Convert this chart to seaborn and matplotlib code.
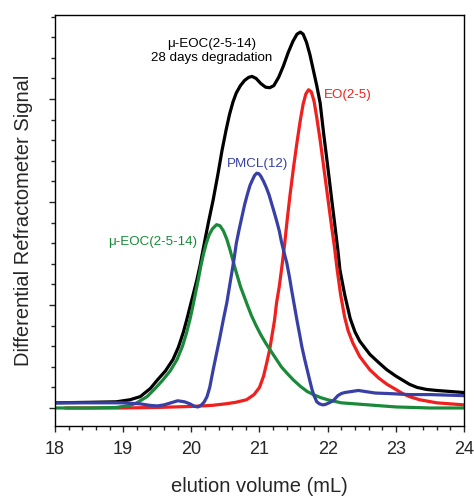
import numpy as np
import pandas as pd
import seaborn as sns
import matplotlib.pyplot as plt
from matplotlib.ticker import MultipleLocator, NullFormatter

# elution volume (mL) / signal values
black_x = [18.0, 18.5, 18.9, 19.1, 19.25, 19.4, 19.5, 19.62, 19.73, 19.81,
           19.88, 19.93, 19.98, 20.03, 20.08, 20.13, 20.17, 20.25, 20.32, 20.39,
           20.45, 20.51, 20.56, 20.61, 20.66, 20.72, 20.78, 20.84, 20.89, 20.95,
           21.02, 21.09, 21.15, 21.21, 21.28, 21.35, 21.42, 21.49, 21.55, 21.60,
           21.64, 21.69, 21.74, 21.79, 21.84, 21.89, 21.94, 22.0, 22.06, 22.11,
           22.15, 22.18, 22.25, 22.33, 22.40, 22.47, 22.55, 22.62, 22.75, 22.87,
           23.0, 23.1, 23.2, 23.31, 23.45, 23.6, 23.8, 24.0]
black_y = [0.05, 0.055, 0.06, 0.08, 0.11, 0.19, 0.27, 0.36, 0.47, 0.59,
           0.73, 0.85, 0.98, 1.11, 1.24, 1.39, 1.53, 1.80, 2.02, 2.27,
           2.50, 2.70, 2.85, 2.97, 3.06, 3.13, 3.18, 3.21, 3.22, 3.20,
           3.15, 3.115, 3.11, 3.13, 3.21, 3.32, 3.45, 3.56, 3.63, 3.65,
           3.63, 3.55, 3.43, 3.28, 3.13, 2.96, 2.67, 2.35, 2.02, 1.75,
           1.53, 1.34, 1.10, 0.87, 0.74, 0.65, 0.58, 0.52, 0.44, 0.37,
           0.31, 0.27, 0.23, 0.20, 0.18, 0.17, 0.16, 0.15]

red_x = [18.15, 19.0, 19.5, 20.0, 20.3, 20.5, 20.65, 20.81, 20.92, 21.0,
         21.06, 21.11, 21.15, 21.18, 21.22, 21.25, 21.29, 21.33, 21.37, 21.41,
         21.45, 21.5, 21.55, 21.6, 21.64, 21.68, 21.72, 21.76, 21.8, 21.84,
         21.89, 21.95, 22.0, 22.05, 22.1, 22.14, 22.19, 22.25, 22.3, 22.37,
         22.47, 22.55, 22.62, 22.75, 22.87, 23.0, 23.1, 23.2, 23.35, 23.6,
         23.8, 24.0]
red_y = [0.0, 0.0, 0.005, 0.015, 0.025, 0.04, 0.055, 0.08, 0.13, 0.2,
         0.31, 0.45, 0.57, 0.69, 0.85, 1.02, 1.18, 1.38, 1.6, 1.85,
         2.08, 2.34, 2.58, 2.8, 2.95, 3.05, 3.09, 3.07, 2.98, 2.82,
         2.6, 2.3, 2.05, 1.8, 1.56, 1.34, 1.1, 0.88, 0.75, 0.63,
         0.5, 0.43, 0.37, 0.29, 0.23, 0.18, 0.14, 0.11, 0.08, 0.05,
         0.04, 0.03]

green_x = [18.0, 18.5, 18.9, 19.1, 19.2, 19.35, 19.47, 19.58, 19.69, 19.79,
           19.87, 19.93, 19.98, 20.02, 20.06, 20.10, 20.14, 20.18, 20.22, 20.26,
           20.31, 20.37, 20.42, 20.47, 20.52, 20.57, 20.64, 20.72, 20.81, 20.88,
           20.95, 21.02, 21.1, 21.18, 21.25, 21.32, 21.4, 21.5, 21.6, 21.7,
           21.79, 21.9, 22.0, 22.2, 22.4, 22.6, 23.0, 23.5, 24.0]
green_y = [0.0, 0.0, 0.005, 0.025, 0.05, 0.11, 0.19, 0.27, 0.36, 0.47,
           0.6, 0.73, 0.86, 0.98, 1.11, 1.24, 1.38, 1.5, 1.6, 1.68,
           1.74, 1.78, 1.77, 1.72, 1.64, 1.53, 1.36, 1.18, 1.02, 0.9,
           0.8, 0.71, 0.62, 0.54, 0.47, 0.40, 0.34, 0.27, 0.21, 0.16,
           0.13, 0.1, 0.08, 0.05, 0.04, 0.03, 0.01, 0.0, 0.0]

blue_x = [18.0, 18.5, 19.0, 19.25, 19.4, 19.5, 19.6, 19.7, 19.8, 19.9,
          19.98, 20.05, 20.10, 20.15, 20.19, 20.23, 20.27, 20.32, 20.37, 20.42,
          20.47, 20.52, 20.56, 20.59, 20.63, 20.66, 20.70, 20.74, 20.78, 20.82,
          20.86, 20.90, 20.93, 20.96, 20.99, 21.02, 21.06, 21.10, 21.14, 21.18,
          21.22, 21.25, 21.29, 21.32, 21.36, 21.40, 21.44, 21.47, 21.51, 21.55,
          21.59, 21.62, 21.66, 21.70, 21.74, 21.77, 21.80, 21.84, 21.88, 21.93,
          21.97, 22.02, 22.08, 22.15, 22.2, 22.25, 22.35, 22.45, 22.55, 22.7,
          22.9, 23.2, 23.5, 24.0]
blue_y = [0.05, 0.05, 0.05, 0.04, 0.025, 0.02, 0.03, 0.05, 0.07, 0.06,
          0.04, 0.015, 0.01, 0.03, 0.06, 0.11, 0.2, 0.37, 0.53, 0.69,
          0.86, 1.02, 1.18, 1.3, 1.46, 1.60, 1.73, 1.85, 1.97, 2.07,
          2.16, 2.22, 2.26, 2.28, 2.275, 2.25, 2.2, 2.14, 2.07, 1.98,
          1.89, 1.82, 1.72, 1.62, 1.51, 1.41, 1.27, 1.15, 1.0, 0.85,
          0.71, 0.6, 0.48, 0.37, 0.26, 0.18, 0.12, 0.06, 0.04, 0.03,
          0.035, 0.05, 0.07, 0.12, 0.14, 0.15, 0.16, 0.17, 0.16, 0.145,
          0.14, 0.13, 0.13, 0.12]

sns.set_style("ticks")
plt.rcParams['font.family'] = ['Liberation Sans', 'DejaVu Sans']

fig = plt.figure(figsize=(4.74, 4.96), dpi=100)
ax = fig.add_axes([55 / 474, 70 / 496, 409 / 474, 411 / 496])

lw = 2.3
style = dict(lw=lw, ax=ax, solid_joinstyle="round", solid_capstyle="round")
sns.lineplot(x=black_x, y=black_y, color="black", **style)
sns.lineplot(x=red_x, y=red_y, color="#f0201e", **style)
sns.lineplot(x=green_x, y=green_y, color="#1a8a3a", **style)
sns.lineplot(x=blue_x, y=blue_y, color="#3840a6", **style)

ax.set_xlim(18, 24)
ax.set_ylim(-0.175, 3.816)

ax.xaxis.set_major_locator(MultipleLocator(1))
ax.xaxis.set_minor_locator(MultipleLocator(0.2))
ax.yaxis.set_major_locator(MultipleLocator(1))
ax.yaxis.set_minor_locator(MultipleLocator(0.2))
ax.yaxis.set_major_formatter(NullFormatter())

ax.tick_params(axis="x", which="major", direction="out", length=4.5, width=1,
               labelsize=13, pad=6)
ax.tick_params(axis="x", which="minor", direction="out", length=3.2, width=1)
ax.tick_params(axis="y", which="major", direction="out", length=4.5, width=1)
ax.tick_params(axis="y", which="minor", direction="out", length=3.0, width=1)

for s in ax.spines.values():
    s.set_visible(True)
    s.set_linewidth(1.0)
    s.set_color("black")

ax.set_xlabel("elution volume (mL)", fontsize=14.5)
ax.set_ylabel("Differential Refractometer Signal", fontsize=14.5)
ax.xaxis.label.set_va("center")
ax.yaxis.label.set_va("center")
ax.xaxis.set_label_coords(0.5, -0.148)
ax.yaxis.set_label_coords(-0.078, 0.5)

fs = 9.6
ax.text(20.30, 3.465, "μ-EOC(2-5-14)\n28 days degradation", color="black",
        fontsize=fs, ha="center", va="center", linespacing=1.25)
ax.text(21.95, 3.04, "EO(2-5)", color="#f0201e", fontsize=fs, ha="left", va="center")
ax.text(20.97, 2.37, "PMCL(12)", color="#3840a6", fontsize=fs, ha="center", va="center")
ax.text(19.43, 1.61, "μ-EOC(2-5-14)", color="#1a8a3a", fontsize=fs, ha="center", va="center")

fig.savefig("out.png", dpi=100)
